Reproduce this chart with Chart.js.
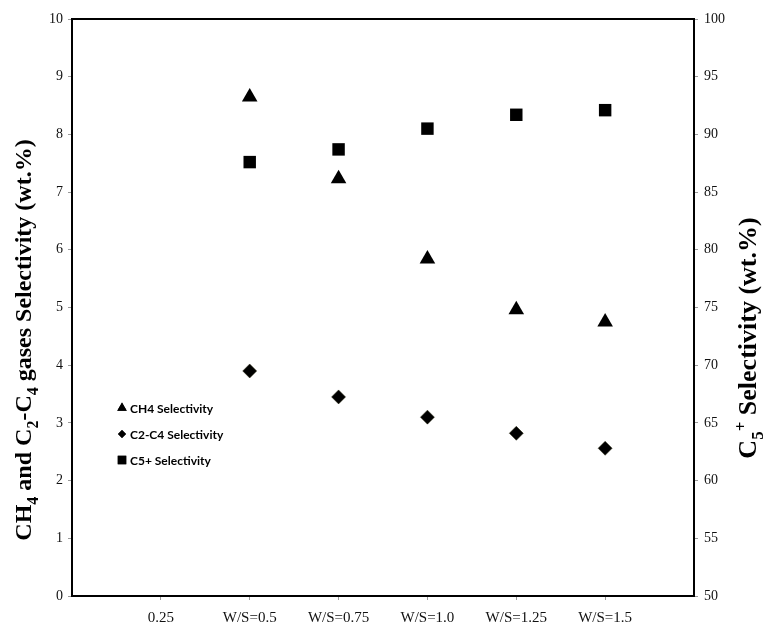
<!DOCTYPE html>
<html>
<head>
<meta charset="utf-8">
<script src="https://cdn.jsdelivr.net/npm/chart.js@4/dist/chart.umd.min.js"></script>
<style>
  html, body { margin: 0; padding: 0; background: #fff; }
  #wrap { width: 764px; height: 628px; position: relative; }
</style>
</head>
<body>
<div id="wrap"><canvas id="c" width="764" height="628"></canvas></div>
<script>
// Water/steam ratio positions on the category axis
const tickValues = [0.25, 0.5, 0.75, 1.0, 1.25, 1.5];
const tickLabels = ['0.25', 'W/S=0.5', 'W/S=0.75', 'W/S=1.0', 'W/S=1.25', 'W/S=1.5'];
const wsRatio = [0.5, 0.75, 1.0, 1.25, 1.5];

// Selectivities (wt.%)
const ch4Selectivity = [8.65, 7.23, 5.84, 4.96, 4.75];
const c2c4Selectivity = [3.90, 3.45, 3.10, 2.82, 2.56];
const c5Selectivity = [87.6, 88.7, 90.5, 91.7, 92.1];

const seriesNames = ['CH4 Selectivity', 'C2-C4 Selectivity', 'C5+ Selectivity'];

const yTickFont = { family: 'Liberation Serif', size: 14 };
const xTickFont = { family: 'Liberation Serif', size: 15 };

// Draws a text run made of [text, mode] pieces; mode: 0 normal, 1 subscript, 2 superscript
function drawRich(ctx, parts, size, family) {
  let total = 0;
  const small = Math.round(size * 0.65);
  parts.forEach(p => {
    ctx.font = 'bold ' + (p[1] ? small : size) + 'px ' + family;
    p.w = ctx.measureText(p[0]).width;
    total += p.w;
  });
  let x = -total / 2;
  parts.forEach(p => {
    ctx.font = 'bold ' + (p[1] ? small : size) + 'px ' + family;
    let dy = 0;
    if (p[1] === 1) dy = size * 0.28;
    if (p[1] === 2) dy = -size * 0.38;
    ctx.fillText(p[0], x, dy);
    x += p.w;
  });
}

const framePlugin = {
  id: 'frame',
  beforeDatasetsDraw(chart) {
    const { ctx, chartArea: a } = chart;
    ctx.save();
    ctx.strokeStyle = '#000';
    ctx.lineWidth = 2;
    ctx.strokeRect(a.left, a.top, a.right - a.left, a.bottom - a.top);
    ctx.restore();
  },
  afterDraw(chart) {
    const { ctx } = chart;
    ctx.save();
    ctx.fillStyle = '#000';
    ctx.textBaseline = 'alphabetic';
    // left axis title
    ctx.save();
    ctx.translate(31, 340);
    ctx.rotate(-Math.PI / 2);
    drawRich(ctx, [['CH', 0], ['4', 1], [' and C', 0], ['2', 1], ['-C', 0], ['4', 1], [' gases Selectivity (wt.%)', 0]], 24, 'Liberation Serif');
    ctx.restore();
    // right axis title
    ctx.save();
    ctx.translate(756, 338);
    ctx.rotate(-Math.PI / 2);
    drawRich(ctx, [['C', 0], ['5', 1], ['+', 2], [' Selectivity (wt.%)', 0]], 26, 'Liberation Serif');
    ctx.restore();

    // legend inside the plot
    const rows = [408, 434, 460];
    const styles = ['triangle', 'rectRot', 'rect'];
    const radii = [5.5, 4, 6];
    rows.forEach((y, i) => {
      Chart.helpers.drawPoint(ctx, { pointStyle: styles[i], radius: radii[i], borderWidth: 0 }, 122, y);
      ctx.fillStyle = '#000';
      ctx.fill();
      ctx.font = 'bold 12px Lato';
      ctx.textBaseline = 'middle';
      ctx.fillText(seriesNames[i], 130, y + 1);
    });
    ctx.restore();
  }
};

const toPoints = (xs, ys) => xs.map((x, i) => ({ x: x, y: ys[i] }));

new Chart(document.getElementById('c'), {
  type: 'scatter',
  data: {
    datasets: [
      {
        label: seriesNames[0],
        data: toPoints(wsRatio, ch4Selectivity),
        yAxisID: 'y',
        pointStyle: 'triangle',
        pointRadius: 9,
        backgroundColor: '#000',
        borderColor: '#000',
        borderWidth: 0
      },
      {
        label: seriesNames[1],
        data: toPoints(wsRatio, c2c4Selectivity),
        yAxisID: 'y',
        pointStyle: 'rectRot',
        pointRadius: 7,
        backgroundColor: '#000',
        borderColor: '#2a2a10',
        borderWidth: 0.5
      },
      {
        label: seriesNames[2],
        data: toPoints(wsRatio, c5Selectivity),
        yAxisID: 'y2',
        pointStyle: 'rect',
        pointRadius: 8.8,
        backgroundColor: '#000',
        borderColor: '#000',
        borderWidth: 0
      }
    ]
  },
  options: {
    responsive: false,
    animation: false,
    layout: { padding: { top: 19, left: 0, right: 0, bottom: 0 } },
    plugins: {
      legend: { display: false },
      tooltip: { enabled: false }
    },
    scales: {
      x: {
        type: 'linear',
        min: 0,
        max: 1.75,
        afterBuildTicks(scale) { scale.ticks = tickValues.map(v => ({ value: v })); },
        afterFit(scale) { scale.height = 32; },
        ticks: {
          color: '#111',
          font: xTickFont,
          padding: 9,
          maxRotation: 0,
          autoSkip: false,
          callback(value) {
            const i = tickValues.findIndex(v => Math.abs(v - value) < 1e-6);
            return i >= 0 ? tickLabels[i] : '';
          }
        },
        grid: { drawOnChartArea: false, tickLength: 4, color: '#999', lineWidth: 1 },
        border: { display: true, color: '#000', width: 2 }
      },
      y: {
        position: 'left',
        min: 0,
        max: 10,
        afterFit(scale) { scale.width = 72; },
        ticks: { stepSize: 1, color: '#111', font: yTickFont, padding: 5 },
        grid: { drawOnChartArea: false, tickLength: 4, color: '#999', lineWidth: 1 },
        border: { display: true, color: '#000', width: 2 }
      },
      y2: {
        position: 'right',
        min: 50,
        max: 100,
        afterFit(scale) { scale.width = 70; },
        ticks: { stepSize: 5, color: '#111', font: yTickFont, padding: 6 },
        grid: { drawOnChartArea: false, tickLength: 4, color: '#999', lineWidth: 1 },
        border: { display: true, color: '#000', width: 2 }
      }
    }
  },
  plugins: [framePlugin]
});
</script>
</body>
</html>
